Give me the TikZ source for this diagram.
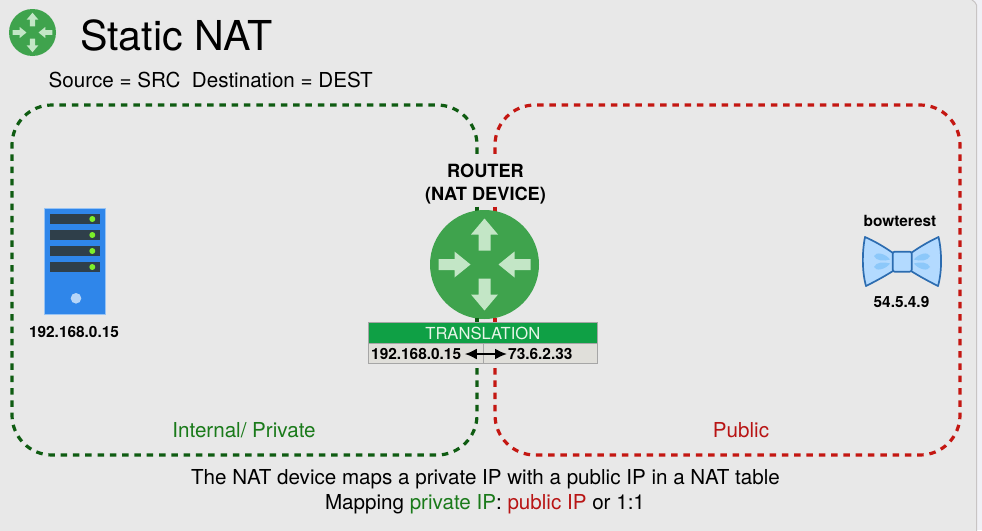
\documentclass[tikz,border=0pt]{standalone}
\usepackage{fontspec}
\usetikzlibrary{arrows.meta}
\setmainfont{TeX Gyre Heros}
\definecolor{bgc}{HTML}{E8E8E8}
\definecolor{outerc}{HTML}{F0F0F5}
\definecolor{edgec}{HTML}{C8C4C4}
\definecolor{dgreen}{HTML}{0F5C12}
\definecolor{dred}{HTML}{C41712}
\definecolor{rgreen}{HTML}{3FA34D}
\definecolor{rarrow}{HTML}{C3E6C6}
\definecolor{bargreen}{HTML}{0FA045}
\definecolor{cellc}{HTML}{E0DFDA}
\definecolor{srvblue}{HTML}{2F86EA}
\definecolor{srvdark}{HTML}{2F3F4A}
\definecolor{srvled}{HTML}{7CF02A}
\definecolor{bowfill}{HTML}{B3DAFF}
\definecolor{bowline}{HTML}{2C6CB0}
\definecolor{bowmark}{HTML}{8CC8FA}
\definecolor{txtgreen}{HTML}{1A7A1A}
\definecolor{txtred}{HTML}{B81414}
\tikzset{
  zonegreen/.style={draw=dgreen,line width=3.2pt,dash pattern=on 6.5pt off 5.8pt,rounded corners=40pt},
  zonered/.style={draw=dred,line width=3.2pt,dash pattern=on 6.5pt off 5.8pt,rounded corners=40pt},
  lbl/.style={inner sep=0pt,font=\fontsize{#1}{#1}\selectfont,align=center,text=black},
  lbl/.default=14,
  bowstroke/.style={draw=bowline,line width=1.7pt,fill=bowfill,line join=round},
}
\newcommand{\routerglyphs}{%
  \fill[rarrow] (-6,-14) -- (6,-14) -- (6,-30) -- (13.5,-30) -- (0,-46) -- (-13.5,-30) -- (-6,-30) -- cycle;
  \fill[rarrow] (-6,14) -- (6,14) -- (6,30) -- (13.5,30) -- (0,46) -- (-13.5,30) -- (-6,30) -- cycle;
  \fill[rarrow] (-46,-5.5) -- (-30,-5.5) -- (-30,-13) -- (-14,0) -- (-30,13) -- (-30,5.5) -- (-46,5.5) -- cycle;
  \fill[rarrow] (46,-5.5) -- (30,-5.5) -- (30,-13) -- (14,0) -- (30,13) -- (30,5.5) -- (46,5.5) -- cycle;
}
\begin{document}
\begin{tikzpicture}[x=1pt,y=-1pt]
\useasboundingbox (0,0) rectangle (982,530);
\fill[outerc] (0,0) rectangle (982,530);
\fill[bgc,draw=edgec,line width=1pt] (-5,-5) -- (972,-5) -- (972,0) .. controls (974,1) and (976,3) .. (976.5,5) -- (976.5,535) -- (-5,535) -- cycle;

% zones
\draw[zonegreen] (477,368) -- (477,455) -- (12,455) -- (12,105) -- (477,105) -- (477,158);
\draw[zonered] (495,368) -- (495,455) -- (960,455) -- (960,105) -- (495,105) -- (495,158);

% small title icon
\node[circle,fill=rgreen,minimum size=47pt,inner sep=0pt] (icon) at (32.5,32.5) {};
\begin{scope}[shift={(icon.center)},scale=0.43]
  \routerglyphs
\end{scope}
\node[lbl=41.2,anchor=west] (title) at (80,35) {Static NAT};
\node[lbl=20.6,anchor=west] (legend) at (48.5,80) {Source = SRC\ \ Destination = DEST};

% router
\draw[dgreen,line width=3.2pt] (477,206.5) -- (477,212);
\draw[dred,line width=3.2pt] (495,206.5) -- (495,212);
\node[lbl=18.2] (routerlbl) at (485.5,184) {\textbf{ROUTER}\\[4pt]\textbf{(NAT DEVICE)}};
\node[circle,fill=rgreen,minimum size=109pt,inner sep=0pt] (router) at (484.5,264.5) {};
\begin{scope}[shift={(router.center)}]
  \routerglyphs
\end{scope}

% translation table
\draw[dgreen,line width=3.2pt] (477,318) -- (477,323);
\draw[dred,line width=3.2pt] (495,318) -- (495,323);
\node[draw=gray!70,line width=0.6pt,fill=bargreen,minimum width=229pt,minimum height=20.5pt,inner sep=0pt,text=rarrow!40!white,font=\fontsize{16.6}{16.6}\selectfont] (bar) at (482.8,333) {TRANSLATION};
\node[draw=gray!70,line width=0.6pt,fill=cellc,minimum width=229pt,minimum height=20pt,inner sep=0pt] (cell) at (482.8,353.3) {};
\draw[gray!70,line width=0.5pt] (483.3,343.5) -- (483.3,363);
\node[lbl=15.4,anchor=west] (ipa) at (371,354) {\textbf{192.168.0.15}};
\node[lbl=15.4,anchor=west] (ipb) at (508,354) {\textbf{73.6.2.33}};
\draw[{Latex[length=12pt,width=11pt]}-{Latex[length=12pt,width=11pt]},line width=2pt,shorten <=3.5pt,shorten >=1pt] (ipa.east) -- (ipb.west);

% server
\node[draw=srvblue!50!white,line width=0.7pt,fill=srvblue,minimum width=61pt,minimum height=106pt,inner sep=0pt] (server) at (75,261.5) {};
\foreach \yy in {219,235,251,267}{
  \fill[srvdark] (50,\yy-5.2) rectangle (100,\yy+5.2);
  \fill[srvled] (92.3,\yy) circle (3);
}
\fill[srvblue!35!white] (76,298.3) circle (5.3);
\node[lbl=15.4] (srvip) at (74,331.5) {\textbf{192.168.0.15}};

% bowtie
\node[lbl=15.4] (bowname) at (900,220.5) {\textbf{bowterest}};
\draw[bowstroke] (893,253) .. controls (883,246) and (874,241) .. (865,237) .. controls (862,252) and (862,272) .. (866,286) .. controls (876,281) and (885,276) .. (893,271) -- cycle;
\draw[bowstroke] (911,253) .. controls (921,246) and (930,241) .. (938.5,237) .. controls (942,252) and (942,272) .. (938,286) .. controls (928,281) and (919,276) .. (911,271) -- cycle;
\fill[bowmark] (874,256) .. controls (876,251) and (886,254) .. (890,259.5) .. controls (884,261.5) and (876,261) .. (874,256) -- cycle;
\fill[bowmark] (874,267) .. controls (876,272) and (886,269) .. (890,263.5) .. controls (884,261.5) and (876,262) .. (874,267) -- cycle;
\fill[bowmark] (930,256) .. controls (928,251) and (918,254) .. (914,259.5) .. controls (920,261.5) and (928,261) .. (930,256) -- cycle;
\fill[bowmark] (930,267) .. controls (928,272) and (918,269) .. (914,263.5) .. controls (920,261.5) and (928,262) .. (930,267) -- cycle;
\draw[bowstroke,rounded corners=2pt] (892.7,251.7) rectangle (911.7,271.7);
\node[lbl=15.4] (bowip) at (901.5,302) {\textbf{54.5.4.9}};

% zone labels
\node[lbl=20.6,text=txtgreen] (intl) at (244,430) {Internal/ Private};
\node[lbl=20.6,text=txtred] (publ) at (741,430) {Public};

% bottom text
\node[lbl=20.6] (cap1) at (485.5,479) {The NAT device maps a private IP with a public IP in a NAT table};
\node[lbl=20.6] (cap2) at (485,504) {Mapping \textcolor{txtgreen}{private IP}: \textcolor{txtred}{public IP} or 1:1};
\end{tikzpicture}
\end{document}
